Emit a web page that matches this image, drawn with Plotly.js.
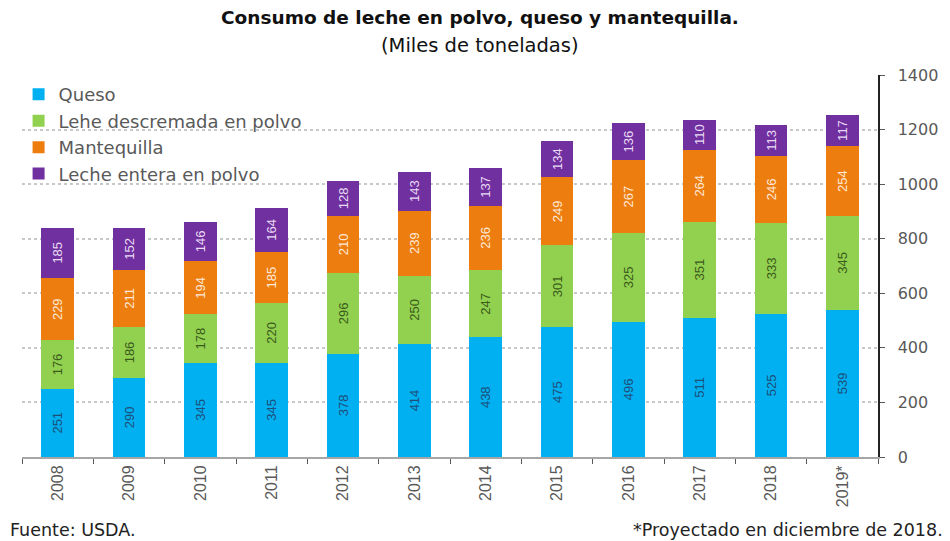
<!DOCTYPE html>
<html>
<head>
<meta charset="utf-8">
<script src="https://cdn.plot.ly/plotly-3.0.1.min.js"></script>
<style>html,body{margin:0;padding:0;background:#fff;}#chart{width:950px;height:541px;}</style>
</head>
<body>
<div id="chart"></div>
<script>
const years = ["2008","2009","2010","2011","2012","2013","2014","2015","2016","2017","2018","2019*"];
const queso = [251, 290, 345, 345, 378, 414, 438, 475, 496, 511, 525, 539];
const descremada = [176, 186, 178, 220, 296, 250, 247, 301, 325, 351, 333, 345];
const mantequilla = [229, 211, 194, 185, 210, 239, 236, 249, 267, 264, 246, 254];
const entera = [185, 152, 146, 164, 128, 143, 137, 134, 136, 110, 113, 117];
const yTicks = [0, 200, 400, 600, 800, 1000, 1200, 1400];

function series(name, vals, color, txtColor) {
  return {
    type: 'bar', name: name, x: years, y: vals,
    marker: {color: color},
    text: vals.map(String), textposition: 'inside', textangle: -90,
    insidetextanchor: 'middle',
    textfont: {family: 'Liberation Sans Narrow, Liberation Sans, sans-serif', size: 13, color: txtColor},
    hoverinfo: 'skip'
  };
}
const data = [
  series('Queso', queso, '#00b0f0', '#1f4e79'),
  series('Lehe descremada en polvo', descremada, '#92d050', '#3a5a1a'),
  series('Mantequilla', mantequilla, '#ed7d0f', '#fde9d9'),
  series('Leche entera en polvo', entera, '#7030a0', '#eadcf4')
];
const layout = {
  width: 950, height: 541,
  margin: {l: 22, r: 72, t: 75, b: 84},
  paper_bgcolor: '#fff', plot_bgcolor: '#fff',
  barmode: 'stack', bargap: 0.54,
  showlegend: true,
  legend: {x: -0.004, y: 0.997, xanchor: 'left', yanchor: 'top', traceorder: 'normal',
    font: {family: 'DejaVu Sans', size: 18, color: '#595959'}, bgcolor: 'rgba(255,255,255,0)',
    itemwidth: 30, tracegroupgap: 0},
  xaxis: {type: 'category', tickangle: -90, tickson: 'boundaries', ticks: 'outside', ticklen: 5,
    tickcolor: '#595959', showline: true, linecolor: '#a6a6a6', linewidth: 2,
    tickfont: {family: 'Liberation Sans Narrow, sans-serif', size: 16, color: '#595959'}, showgrid: false},
  yaxis: {side: 'right', range: [0, 1400], tickvals: yTicks, ticktext: yTicks.map(String),
    ticks: 'outside', ticklen: 5, tickcolor: '#595959', showline: true, linecolor: '#222', linewidth: 1.5,
    showgrid: true, gridcolor: '#c8c8c8', griddash: 'dot', gridwidth: 2, zeroline: false,
    ticklabelstandoff: 10,
    tickfont: {family: 'DejaVu Sans', size: 16, color: '#595959'}},
  annotations: [
    {text: '<b>Consumo de leche en polvo, queso y mantequilla.</b>', xref: 'paper', yref: 'paper', x: 0.535, y: 1.0 + 57/382, xanchor: 'center', yanchor: 'middle',
      showarrow: false, font: {family: 'DejaVu Sans', size: 18.5, color: '#111'}},
    {text: '(Miles de toneladas)', xref: 'paper', yref: 'paper', x: 0.535, y: 1.0 + 30/382, xanchor: 'center', yanchor: 'middle',
      showarrow: false, font: {family: 'DejaVu Sans', size: 19.5, color: '#111'}},
    {text: 'Fuente: USDA.', xref: 'paper', yref: 'paper', x: -0.016, y: -0.19, xanchor: 'left', yanchor: 'middle',
      showarrow: false, font: {family: 'DejaVu Sans', size: 17.5, color: '#222'}},
    {text: '*Proyectado en diciembre de 2018.', xref: 'paper', yref: 'paper', x: 1.078, y: -0.19, xanchor: 'right', yanchor: 'middle',
      showarrow: false, font: {family: 'DejaVu Sans', size: 17.5, color: '#222'}}
  ]
};
Plotly.newPlot('chart', data, layout, {displayModeBar: false, staticPlot: true});
</script>
</body>
</html>
